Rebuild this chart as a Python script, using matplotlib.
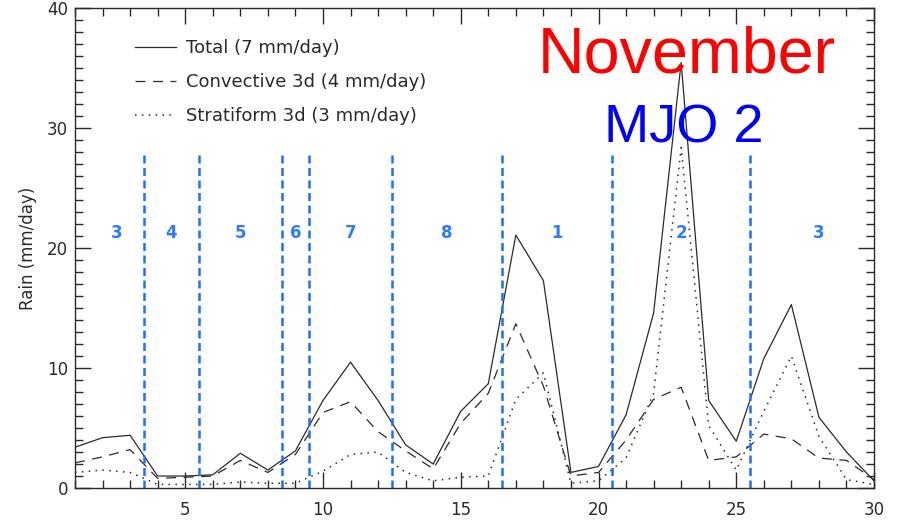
import numpy as np
import matplotlib
matplotlib.use("Agg")
import matplotlib.pyplot as plt
from matplotlib.ticker import MultipleLocator

# daily rain (mm/day), November
days = np.arange(1, 31)
total = [3.4, 4.2, 4.4, 1.0, 1.0, 1.1, 2.9, 1.5, 3.1, 7.3, 10.5, 7.3, 3.6, 2.0, 6.4,
         8.7, 21.1, 17.3, 1.3, 1.8, 6.1, 14.6, 35.5, 7.3, 3.9, 10.8, 15.3, 5.9, 3.0, 0.6]
convective = [2.1, 2.6, 3.2, 0.8, 0.9, 1.0, 2.3, 1.3, 2.8, 6.3, 7.2, 4.7, 3.1, 1.6, 5.4,
              7.9, 13.7, 8.5, 1.0, 1.3, 4.0, 7.4, 8.4, 2.3, 2.6, 4.5, 4.1, 2.5, 2.3, 0.7]
stratiform = [1.3, 1.5, 1.3, 0.3, 0.3, 0.3, 0.5, 0.4, 0.4, 1.4, 2.8, 3.0, 1.3, 0.6, 0.9,
              1.0, 7.4, 9.6, 0.4, 0.6, 2.5, 7.9, 28.4, 5.2, 1.5, 6.4, 11.0, 4.3, 0.7, 0.3]
labels = ["Total (7 mm/day)", "Convective 3d (4 mm/day)", "Stratiform 3d (3 mm/day)"]

# MJO phase boundaries and phase labels
phase_edges = [3.5, 5.5, 8.5, 9.5, 12.5, 16.5, 20.5, 25.5]
phase_pos = [2.5, 4.5, 7, 9, 11, 14.5, 18.5, 23, 28]
phase_names = ["3", "4", "5", "6", "7", "8", "1", "2", "3"]

plt.rcParams['font.family'] = ['DejaVu Sans']
fig = plt.figure(figsize=(8.97, 5.2), dpi=100)
ax = fig.add_axes([0.0836, 0.0615, 0.8908, 0.9222])

lc = '#2a2a2a'
ax.plot(days, total, color=lc, lw=0.9, label=labels[0])
ax.plot(days, convective, color=lc, lw=0.9, linestyle=(0, (8, 6)), label=labels[1])
ax.plot(days, stratiform, color=lc, lw=1.1, linestyle=(0, (1, 3.5)), label=labels[2])

ax.vlines(phase_edges, 0, 28, colors='#1e6eff', linestyles=(0, (3.2, 1.8)), lw=1.8)
for xp, name in zip(phase_pos, phase_names):
    ax.text(xp, 21.3, name, color='#2f7bff', fontsize=12, fontweight='bold',
            ha='center', va='center')

ax.text(23.2, 34.67, "November", color='#ff0000', fontsize=46.5,
        family='Liberation Sans', ha='center', va='baseline')
ax.text(23.08, 28.83, "MJO 2", color='#0000ff', fontsize=39,
        family='Liberation Sans', ha='center', va='baseline')

ax.set_xlim(1, 30)
ax.set_ylim(0, 40)
ax.xaxis.set_major_locator(MultipleLocator(5))
ax.xaxis.set_minor_locator(MultipleLocator(1))
ax.yaxis.set_major_locator(MultipleLocator(10))
ax.yaxis.set_minor_locator(MultipleLocator(1))
ax.tick_params(which='both', direction='in', top=True, right=True, color=lc,
               labelcolor=lc, labelsize=12)
ax.tick_params(which='major', length=11.5, width=1)
ax.tick_params(which='minor', length=5.8, width=1)
ax.tick_params(axis='x', pad=9)
ax.tick_params(axis='y', pad=5)
for s in ax.spines.values():
    s.set_color(lc)
    s.set_linewidth(1)

ax.set_ylabel("Rain (mm/day)", fontsize=12, color=lc, labelpad=7)

ax.legend(loc='upper left', bbox_to_anchor=(0.055, 0.97), frameon=False,
          fontsize=13, handlelength=2.27, handletextpad=0.55, labelspacing=0.88,
          labelcolor=lc)

fig.savefig("out.png", dpi=100)
